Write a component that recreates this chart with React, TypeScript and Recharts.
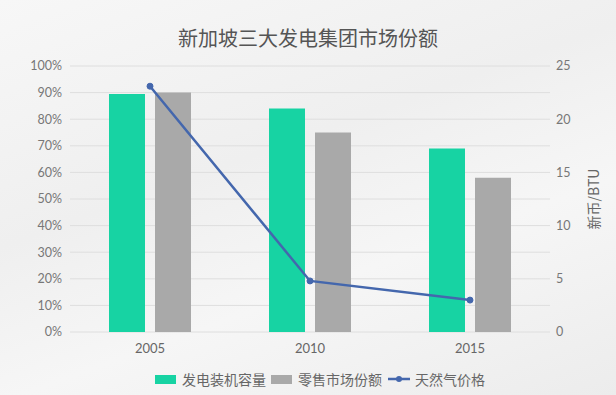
import React from "react";
import {
  ComposedChart,
  Bar,
  Line,
  XAxis,
  YAxis,
  CartesianGrid,
} from "recharts";

const years = ["2005", "2010", "2015"];
const capacityShare = [89.5, 84, 69];
const retailShare = [90, 75, 58];
const gasPrice = [23.1, 4.8, 3.0];
const leftTicks = [0, 10, 20, 30, 40, 50, 60, 70, 80, 90, 100];
const rightTicks = [0, 5, 10, 15, 20, 25];

const seriesNames = ["发电装机容量", "零售市场份额", "天然气价格"];
const colors = ["#17d3a3", "#a9a9a9", "#4467ad"];

const data = years.map((y, i) => ({
  year: y,
  cap: capacityShare[i],
  retail: retailShare[i],
  gas: gasPrice[i],
}));

const FONT = "Lato, 'Noto Sans CJK SC', sans-serif";

const LegendBlock = () => (
  <div
    style={{
      position: "absolute",
      left: 155,
      top: 369,
      display: "flex",
      alignItems: "center",
      fontFamily: "'Noto Sans CJK SC', sans-serif",
      fontSize: 14,
      lineHeight: "20px",
      color: "#666",
    }}
  >
    <span style={{ display: "flex", alignItems: "center", marginRight: 5 }}>
      <span style={{ width: 21, height: 9, background: colors[0], marginRight: 6 }} />
      {seriesNames[0]}
    </span>
    <span style={{ display: "flex", alignItems: "center", marginRight: 5 }}>
      <span style={{ width: 21, height: 9, background: colors[1], marginRight: 6 }} />
      {seriesNames[1]}
    </span>
    <span style={{ display: "flex", alignItems: "center" }}>
      <svg width={24} height={10} style={{ marginRight: 4 }}>
        <line x1={1} y1={5} x2={23} y2={5} stroke={colors[2]} strokeWidth={2.5} />
        <circle cx={12} cy={5} r={3} fill={colors[2]} />
      </svg>
      {seriesNames[2]}
    </span>
  </div>
);

export default function App() {
  return (
    <div
      style={{
        position: "absolute",
        left: 0,
        top: 0,
        width: 616,
        height: 395,
        background:
          "linear-gradient(160deg, #f7f7f7 0%, #efefef 40%, #f6f6f6 65%, #ececec 100%)",
        overflow: "hidden",
      }}
    >
      <div
        style={{
          position: "absolute",
          left: 0,
          width: 616,
          top: 23,
          textAlign: "center",
          fontFamily: "'Noto Sans CJK SC', sans-serif",
          fontSize: 20,
          color: "#555",
        }}
      >
        新加坡三大发电集团市场份额
      </div>
      <ComposedChart
        width={616}
        height={395}
        data={data}
        margin={{ top: 66, right: 0, bottom: 33, left: 0 }}
        barGap={10}
        barCategoryGap="25%"
        style={{ position: "absolute", left: 0, top: 0 }}
      >
        <CartesianGrid vertical={false} stroke="#dedede" yAxisId="left" />
        <XAxis
          dataKey="year"
          height={30}
          axisLine={false}
          tickLine={false}
          tick={{ fill: "#666", fontSize: 13, fontFamily: FONT }}
          tickMargin={6}
        />
        <YAxis
          yAxisId="left"
          domain={[0, 100]}
          ticks={leftTicks}
          width={70}
          axisLine={false}
          tickLine={false}
          tickFormatter={(v) => `${v}%`}
          tick={{ fill: "#777", fontSize: 12.5, fontFamily: FONT }}
          tickMargin={2}
        />
        <YAxis
          yAxisId="right"
          orientation="right"
          domain={[0, 25]}
          ticks={rightTicks}
          width={66}
          axisLine={false}
          tickLine={false}
          tick={{ fill: "#777", fontSize: 12.5, fontFamily: FONT }}
          tickMargin={0}
          label={{
            value: "新币/BTU",
            angle: -90,
            position: "insideRight",
            offset: 22,
            style: { fill: "#666", fontSize: 14, fontFamily: "'Noto Sans CJK SC', sans-serif", textAnchor: "middle" },
          }}
        />
        <Bar
          yAxisId="left"
          dataKey="cap"
          name={seriesNames[0]}
          fill={colors[0]}
          barSize={36}
          isAnimationActive={false}
        />
        <Bar
          yAxisId="left"
          dataKey="retail"
          name={seriesNames[1]}
          fill={colors[1]}
          barSize={36}
          isAnimationActive={false}
        />
        <Line
          yAxisId="right"
          dataKey="gas"
          name={seriesNames[2]}
          stroke={colors[2]}
          strokeWidth={2.5}
          dot={{ r: 3, fill: colors[2], stroke: colors[2], strokeWidth: 1 }}
          isAnimationActive={false}
        />
      </ComposedChart>
      <LegendBlock />
    </div>
  );
}
